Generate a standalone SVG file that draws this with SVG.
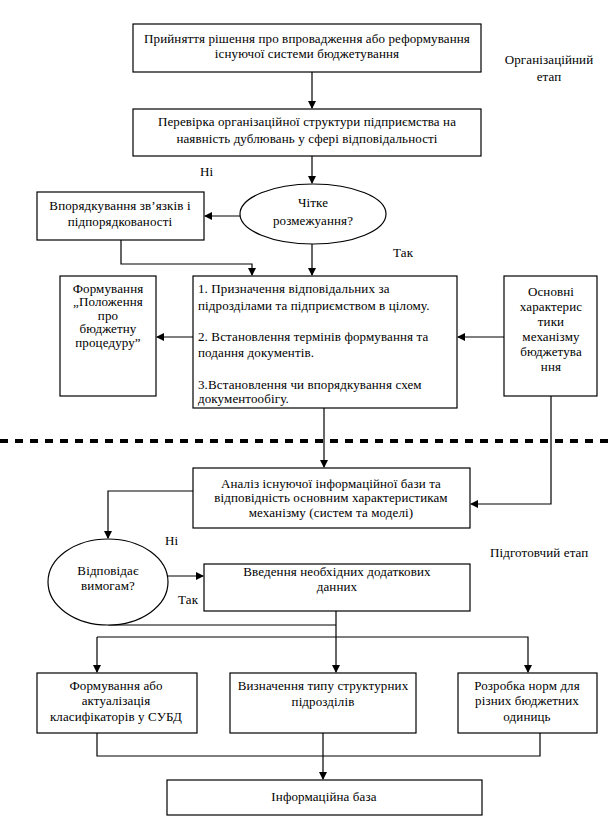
<svg xmlns="http://www.w3.org/2000/svg" width="613" height="817" viewBox="0 0 613 817">
<defs>
<marker id="ah" markerWidth="8" markerHeight="8" refX="7" refY="4" orient="auto" markerUnits="userSpaceOnUse">
<path d="M0,0 L8,4 L0,8 Z" fill="#000"/>
</marker>
<style>
.b{fill:#fff;stroke:#000;stroke-width:1.2}
text{font-family:'Liberation Serif','Times New Roman',serif;font-size:13px;letter-spacing:0.12px;fill:#000}
.c{text-anchor:middle}
.l{fill:none;stroke:#000;stroke-width:1.2}
.a{fill:none;stroke:#000;stroke-width:1.2;marker-end:url(#ah)}
</style>
</defs>
<rect width="613" height="817" fill="#fff"/>
<g id="connectors">
<path class="a" d="M312,72 V108"/>
<path class="a" d="M312,156 V183"/>
<path class="a" d="M240,216 H205"/>
<path class="a" d="M121,240 V264 H252 V275"/>
<path class="a" d="M312,244 V275"/>
<path class="a" d="M193,337 H157"/>
<path class="a" d="M504,337 H458"/>
<path class="a" d="M324,408 V467"/>
<path class="a" d="M551,396 V504 H471"/>
<path class="a" d="M193,491 H108 V538"/>
<path class="a" d="M168,576 H203"/>
<path class="l" d="M108,625 H336"/>
<path class="a" d="M336,611 V672"/>
<path class="a" d="M97,637 V672"/>
<path class="a" d="M97,637 H528 V672"/>
<path class="l" d="M97,733 V756 H540 V733"/>
<path class="a" d="M323,733 V779"/>
<line x1="0" y1="441" x2="613" y2="441" stroke="#000" stroke-width="4" stroke-dasharray="8 7"/>
</g>
<g id="n1"><rect class="b" x="133" y="24" width="348" height="48"/>
<text class="c" x="307" y="42.5">Прийняття рішення про впровадження або реформування</text>
<text class="c" x="307" y="57.5">існуючої системи бюджетування</text></g>
<g id="stage1"><text class="c" x="549" y="64">Організаційний</text><text class="c" x="549" y="81">етап</text></g>
<g id="n2"><rect class="b" x="133" y="109" width="348" height="47"/>
<text class="c" x="307" y="125.5">Перевірка організаційної структури підприємства на</text>
<text class="c" x="307" y="142.5">наявність дублювань у сфері відповідальності</text></g>
<g id="lbl-ni1"><text x="200" y="176">Ні</text></g>
<g id="d1"><ellipse class="b" cx="313" cy="214" rx="73" ry="30"/>
<text class="c" x="313" y="207">Чітке</text>
<text class="c" x="313" y="224.5">розмежуання?</text></g>
<g id="n3"><rect class="b" x="37" y="192" width="167" height="48"/>
<text class="c" x="120" y="209.5">Впорядкування зв’язків і</text>
<text class="c" x="120" y="225.5">підпорядкованості</text></g>
<g id="lbl-tak1"><text x="393" y="257">Так</text></g>
<g id="n4"><rect class="b" x="60" y="276" width="96" height="120"/>
<text class="c" x="108" y="292.5">Формування</text>
<text class="c" x="108" y="306">„Положення</text>
<text class="c" x="108" y="319.5">про</text>
<text class="c" x="108" y="333">бюджетну</text>
<text class="c" x="108" y="346.5">процедуру”</text></g>
<g id="n5"><rect class="b" x="193" y="276" width="264" height="132"/>
<text x="198" y="293">1. Призначення відповідальних за</text>
<text x="198" y="309.5">підрозділами та підприємством в цілому.</text>
<text x="198" y="341">2. Встановлення термінів формування та</text>
<text x="198" y="356.5">подання документів.</text>
<text x="198" y="388.5">3.Встановлення чи впорядкування схем</text>
<text x="198" y="403">документообігу.</text></g>
<g id="n6"><rect class="b" x="504" y="276" width="93" height="120"/>
<text class="c" x="551" y="295.5">Основні</text>
<text class="c" x="551" y="310.5">характерис</text>
<text class="c" x="551" y="325.5">тики</text>
<text class="c" x="551" y="340.5">механізму</text>
<text class="c" x="551" y="355.5">бюджетува</text>
<text class="c" x="551" y="370.5">ння</text></g>
<g id="n7"><rect class="b" x="193" y="468" width="277" height="60"/>
<text class="c" x="331" y="487.5">Аналіз існуючої інформаційної бази та</text>
<text class="c" x="331" y="502">відповідність основним характеристикам</text>
<text class="c" x="331" y="517">механізму (систем та моделі)</text></g>
<g id="lbl-ni2"><text x="165" y="545">Ні</text></g>
<g id="stage2"><text x="490" y="557">Підготовчий етап</text></g>
<g id="d2"><ellipse class="b" cx="108" cy="582" rx="60" ry="43"/>
<text class="c" x="108" y="575">Відповідає</text>
<text class="c" x="108" y="590">вимогам?</text></g>
<g id="n8"><rect class="b" x="204" y="564" width="266" height="47"/>
<text class="c" x="337" y="576">Введення необхідних додаткових</text>
<text class="c" x="337" y="591">данних</text></g>
<g id="lbl-tak2"><text x="178" y="604">Так</text></g>
<g id="n9"><rect class="b" x="37" y="673" width="160" height="60"/>
<text class="c" x="116" y="689.5">Формування або</text>
<text class="c" x="116" y="704.5">актуалізація</text>
<text class="c" x="116" y="721">класифікаторів у СУБД</text></g>
<g id="n10"><rect class="b" x="230" y="673" width="186" height="60"/>
<text class="c" x="323" y="689.5">Визначення типу структурних</text>
<text class="c" x="323" y="706">підрозділів</text></g>
<g id="n11"><rect class="b" x="458" y="673" width="139" height="60"/>
<text class="c" x="527" y="689.5">Розробка норм для</text>
<text class="c" x="527" y="704.5">різних бюджетних</text>
<text class="c" x="527" y="721">одиниць</text></g>
<g id="n12"><rect class="b" x="167" y="780" width="315" height="35"/>
<text class="c" x="324" y="801">Інформаційна база</text></g>
</svg>
